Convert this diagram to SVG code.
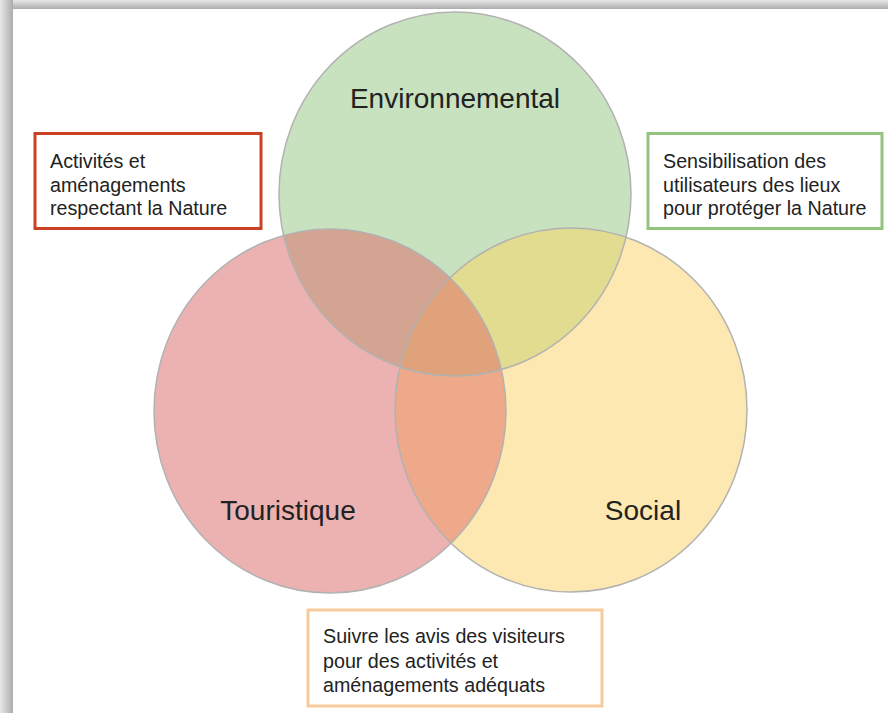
<svg xmlns="http://www.w3.org/2000/svg" width="888" height="713" viewBox="0 0 888 713">
<defs>
<linearGradient id="gTop" x1="0" y1="0" x2="0" y2="1"><stop offset="0" stop-color="#e8e8e8"/><stop offset="1" stop-color="#acacac"/></linearGradient>
<linearGradient id="gLeft" x1="0" y1="0" x2="1" y2="0"><stop offset="0" stop-color="#e8e8e8"/><stop offset="1" stop-color="#acacac"/></linearGradient>
<clipPath id="cRed"><ellipse cx="330" cy="411" rx="176" ry="182"/></clipPath>
<clipPath id="cYel"><ellipse cx="571" cy="410" rx="176" ry="182"/></clipPath>
</defs>
<style>
.edge{fill:none;stroke:#b2b2b2;stroke-width:1.5}
.title{font-family:"Liberation Sans",Arial,sans-serif;font-size:28px;fill:#222}
.note{font-family:"Liberation Sans",Arial,sans-serif;font-size:19.7px;fill:#222}
.box{fill:#fff;stroke-width:3}
</style>
<rect x="0" y="0" width="888" height="713" fill="#fff"/>
<rect x="0" y="0" width="888" height="9" fill="url(#gTop)"/>
<rect x="0" y="0" width="13" height="713" fill="url(#gLeft)"/>
<g id="venn">
<ellipse cx="455" cy="194" rx="176" ry="182" fill="#c8e1bf"/>
<ellipse cx="330" cy="411" rx="176" ry="182" fill="#ecb2b2"/>
<ellipse cx="571" cy="410" rx="176" ry="182" fill="#fde8b1"/>
<ellipse cx="455" cy="194" rx="176" ry="182" fill="#d3a492" clip-path="url(#cRed)"/>
<ellipse cx="455" cy="194" rx="176" ry="182" fill="#e2dc90" clip-path="url(#cYel)"/>
<ellipse cx="330" cy="411" rx="176" ry="182" fill="#eea88a" clip-path="url(#cYel)"/>
<g clip-path="url(#cYel)"><ellipse cx="455" cy="194" rx="176" ry="182" fill="#e0a27a" clip-path="url(#cRed)"/></g>
<ellipse class="edge" cx="455" cy="194" rx="176" ry="182"/>
<ellipse class="edge" cx="330" cy="411" rx="176" ry="182"/>
<ellipse class="edge" cx="571" cy="410" rx="176" ry="182"/>
</g>
<g id="env"><text class="title" x="455" y="108" text-anchor="middle">Environnemental</text></g>
<g id="tour"><text class="title" x="288" y="520" text-anchor="middle">Touristique</text></g>
<g id="soc"><text class="title" x="643" y="520" text-anchor="middle">Social</text></g>
<g id="noteRed">
<rect class="box" x="35" y="133.5" width="226" height="95" stroke="#cc4125"/>
<text class="note" x="50" y="168">Activités et</text>
<text class="note" x="50" y="191.5">aménagements</text>
<text class="note" x="50" y="215">respectant la Nature</text>
</g>
<g id="noteGreen">
<rect class="box" x="648" y="133.5" width="234" height="95" stroke="#93c47d"/>
<text class="note" x="663" y="168">Sensibilisation des</text>
<text class="note" x="663" y="191.5">utilisateurs des lieux</text>
<text class="note" x="663" y="215">pour protéger la Nature</text>
</g>
<g id="noteOrange">
<rect class="box" x="308" y="610" width="294" height="96" stroke="#f9cb9c"/>
<text class="note" x="323" y="643">Suivre les avis des visiteurs</text>
<text class="note" x="323" y="667.5">pour des activités et</text>
<text class="note" x="323" y="692">aménagements adéquats</text>
</g>
<g id="connectors"/>
</svg>
